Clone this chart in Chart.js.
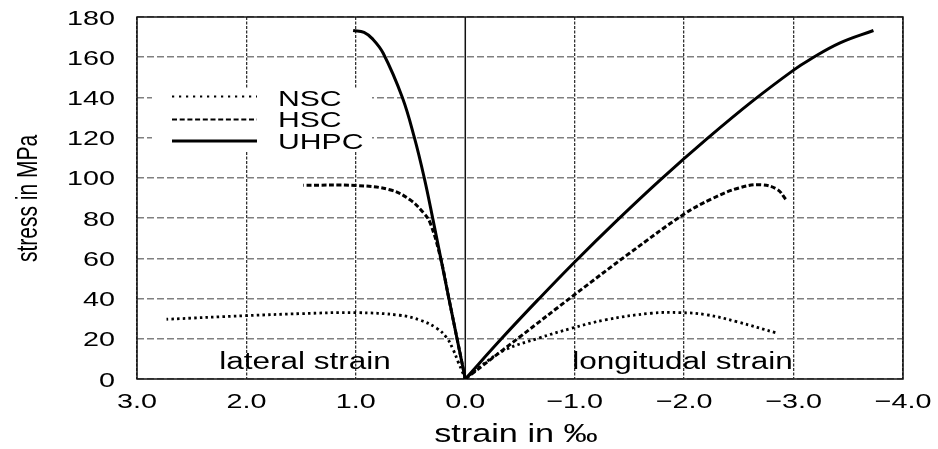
<!DOCTYPE html>
<html>
<head>
<meta charset="utf-8">
<script src="https://cdn.jsdelivr.net/npm/chart.js@4"></script>
<style>
body { margin: 0; background: #fff; }
#wrap { width: 938px; height: 449px; }
</style>
</head>
<body>
<div id="wrap"><canvas id="chart" width="938" height="449"></canvas></div>
<script>
// axis ticks
const xTicks = [3, 2, 1, 0, -1, -2, -3, -4];
const xTickLabels = ['3.0', '2.0', '1.0', '0.0', '\u22121.0', '\u22122.0', '\u22123.0', '\u22124.0'];
const yTicks = [0, 20, 40, 60, 80, 100, 120, 140, 160, 180];

const seriesNames = ['NSC', 'HSC', 'UHPC'];

// lateral strain branch (positive), in per mille / MPa
const nscLatX = [0, 0.03, 0.065, 0.11, 0.17, 0.26, 0.41, 0.6, 1.0, 1.5, 2.0, 2.73];
const nscLatY = [0, 4, 8.5, 14.5, 20.5, 25.2, 29.2, 31.7, 33, 32.5, 31.5, 29.7];
const hscLatX = [0, 0.075, 0.15, 0.225, 0.32, 0.38, 0.505, 0.69, 1.0, 1.48];
const hscLatY = [0, 20, 40, 60, 77.5, 82.5, 89.1, 94.1, 96.2, 96.3];
const uhpcLatX = [0, 0.15, 0.298, 0.375, 0.465, 0.575, 0.75, 0.845, 0.925, 1.025];
const uhpcLatY = [0, 40, 80, 100, 120, 140, 162, 169, 172.4, 173.3];

// longitudinal strain branch (negative)
const nscLonX = [0, -0.15, -0.36, -0.67, -0.97, -1.28, -1.7, -1.96, -2.2, -2.48, -2.85];
const nscLonY = [0, 6.8, 14.4, 20.3, 25.2, 29.4, 32.7, 33, 32, 28.5, 22.8];
const hscLonX = [0, -0.5, -1.0, -1.5, -2.0, -2.25, -2.5, -2.7, -2.85, -2.93];
const hscLonY = [0, 21, 42, 62.5, 82, 89.5, 95, 96.6, 94.3, 89.3];
const uhpcLonX = [0, -0.33, -0.67, -1.0, -1.38, -1.78, -2.21, -2.63, -3.0, -3.15, -3.42, -3.73];
const uhpcLonY = [0, 20, 39.7, 58.2, 78.5, 98.9, 119.5, 138.4, 153.6, 158.9, 167, 173.3];

const FONT = '"Liberation Sans", Arial, sans-serif';
const SX = 1.37; // horizontal stretch of the lettering in the source figure

function pts(xs, ys) {
    return xs.map((x, i) => ({ x: x, y: ys[i] }));
}

const styles = {
    NSC:  { width: 2.8, dash: [2.5, 3.2], legendWidth: 2.2, legendDash: [2.2, 4.8] },
    HSC:  { width: 3,   dash: [5, 2.5],   legendWidth: 2.2, legendDash: [5, 2.7] },
    UHPC: { width: 3,   dash: [],         legendWidth: 3,   legendDash: [] }
};

const branches = [
    ['NSC', pts(nscLatX, nscLatY)], ['NSC', pts(nscLonX, nscLonY)],
    ['HSC', pts(hscLatX, hscLatY)], ['HSC', pts(hscLonX, hscLonY)],
    ['UHPC', pts(uhpcLatX, uhpcLatY)], ['UHPC', pts(uhpcLonX, uhpcLonY)]
];

const datasets = branches.map(([name, data]) => ({
    label: name,
    data: data,
    borderColor: '#000',
    borderWidth: styles[name].width,
    borderDash: styles[name].dash,
    borderCapStyle: 'butt',
    pointRadius: 0,
    tension: 0.4,
    fill: false
}));

function stretchedText(ctx, text, x, y, align, size) {
    ctx.save();
    ctx.translate(x, y);
    ctx.scale(SX, 1);
    ctx.font = size + 'px ' + FONT;
    ctx.textAlign = align;
    ctx.textBaseline = 'alphabetic';
    ctx.fillStyle = '#000';
    ctx.fillText(text, 0, 0);
    ctx.restore();
}

// frame and the solid zero-strain line
const framePlugin = {
    id: 'frame',
    beforeDatasetsDraw(chart) {
        const { ctx, chartArea: a, scales } = chart;
        ctx.save();
        ctx.strokeStyle = '#111';
        ctx.lineWidth = 1.5;
        ctx.setLineDash([]);
        const x0 = scales.x.getPixelForValue(0);
        ctx.beginPath();
        ctx.moveTo(x0, a.top);
        ctx.lineTo(x0, a.bottom);
        ctx.stroke();
        ctx.strokeRect(a.left, a.top, a.right - a.left, a.bottom - a.top);
        ctx.restore();
    }
};

// tick labels, titles, annotations and legend
const textPlugin = {
    id: 'texts',
    afterDraw(chart) {
        const { ctx, scales } = chart;
        yTicks.forEach(v => {
            stretchedText(ctx, String(v), 115, scales.y.getPixelForValue(v) + 7.5, 'right', 21);
        });
        xTicks.forEach((v, i) => {
            stretchedText(ctx, xTickLabels[i], scales.x.getPixelForValue(v), 408, 'center', 21);
        });
        stretchedText(ctx, 'strain in \u2030', 516, 441.5, 'center', 25);

        ctx.save();
        ctx.translate(37, 198.5);
        ctx.scale(SX, 1);
        ctx.rotate(-Math.PI / 2);
        ctx.font = '21px ' + FONT;
        ctx.textAlign = 'center';
        ctx.textBaseline = 'alphabetic';
        ctx.fillStyle = '#000';
        ctx.fillText('stress in MPa', 0, 0);
        ctx.restore();

        stretchedText(ctx, 'lateral strain', 305, 369, 'center', 23);
        stretchedText(ctx, 'longitudal strain', 682.5, 369, 'center', 23);

        // legend
        ctx.save();
        ctx.fillStyle = '#fff';
        ctx.fillRect(152, 88, 220, 63);
        const lineY = [96.5, 119.5, 141];
        const textY = [106, 127, 149];
        seriesNames.forEach((name, i) => {
            ctx.save();
            ctx.strokeStyle = '#000';
            ctx.lineWidth = styles[name].legendWidth;
            ctx.setLineDash(styles[name].legendDash);
            ctx.beginPath();
            ctx.moveTo(172, lineY[i]);
            ctx.lineTo(257, lineY[i]);
            ctx.stroke();
            ctx.restore();
            stretchedText(ctx, name, 278, textY[i], 'left', 22);
        });
        ctx.restore();
    }
};

new Chart(document.getElementById('chart').getContext('2d'), {
    type: 'line',
    data: { datasets: datasets },
    options: {
        responsive: false,
        animation: false,
        layout: { padding: { left: 137, right: 35, top: 17, bottom: 70 } },
        plugins: { legend: { display: false }, tooltip: { enabled: false } },
        scales: {
            x: {
                type: 'linear',
                min: -4,
                max: 3,
                reverse: true,
                ticks: { stepSize: 1, display: false },
                grid: {
                    drawTicks: false,
                    color: ctx => (ctx.tick && ctx.tick.value === 0) ? 'rgba(0,0,0,0)' : '#333',
                    lineWidth: 1.3
                },
                border: { display: false, dash: [3, 1.5] }
            },
            y: {
                min: 0,
                max: 180,
                ticks: { stepSize: 20, display: false },
                grid: { drawTicks: false, color: '#808080', lineWidth: 1.5 },
                border: { display: false, dash: [7, 3] }
            }
        }
    },
    plugins: [framePlugin, textPlugin]
});
</script>
</body>
</html>
